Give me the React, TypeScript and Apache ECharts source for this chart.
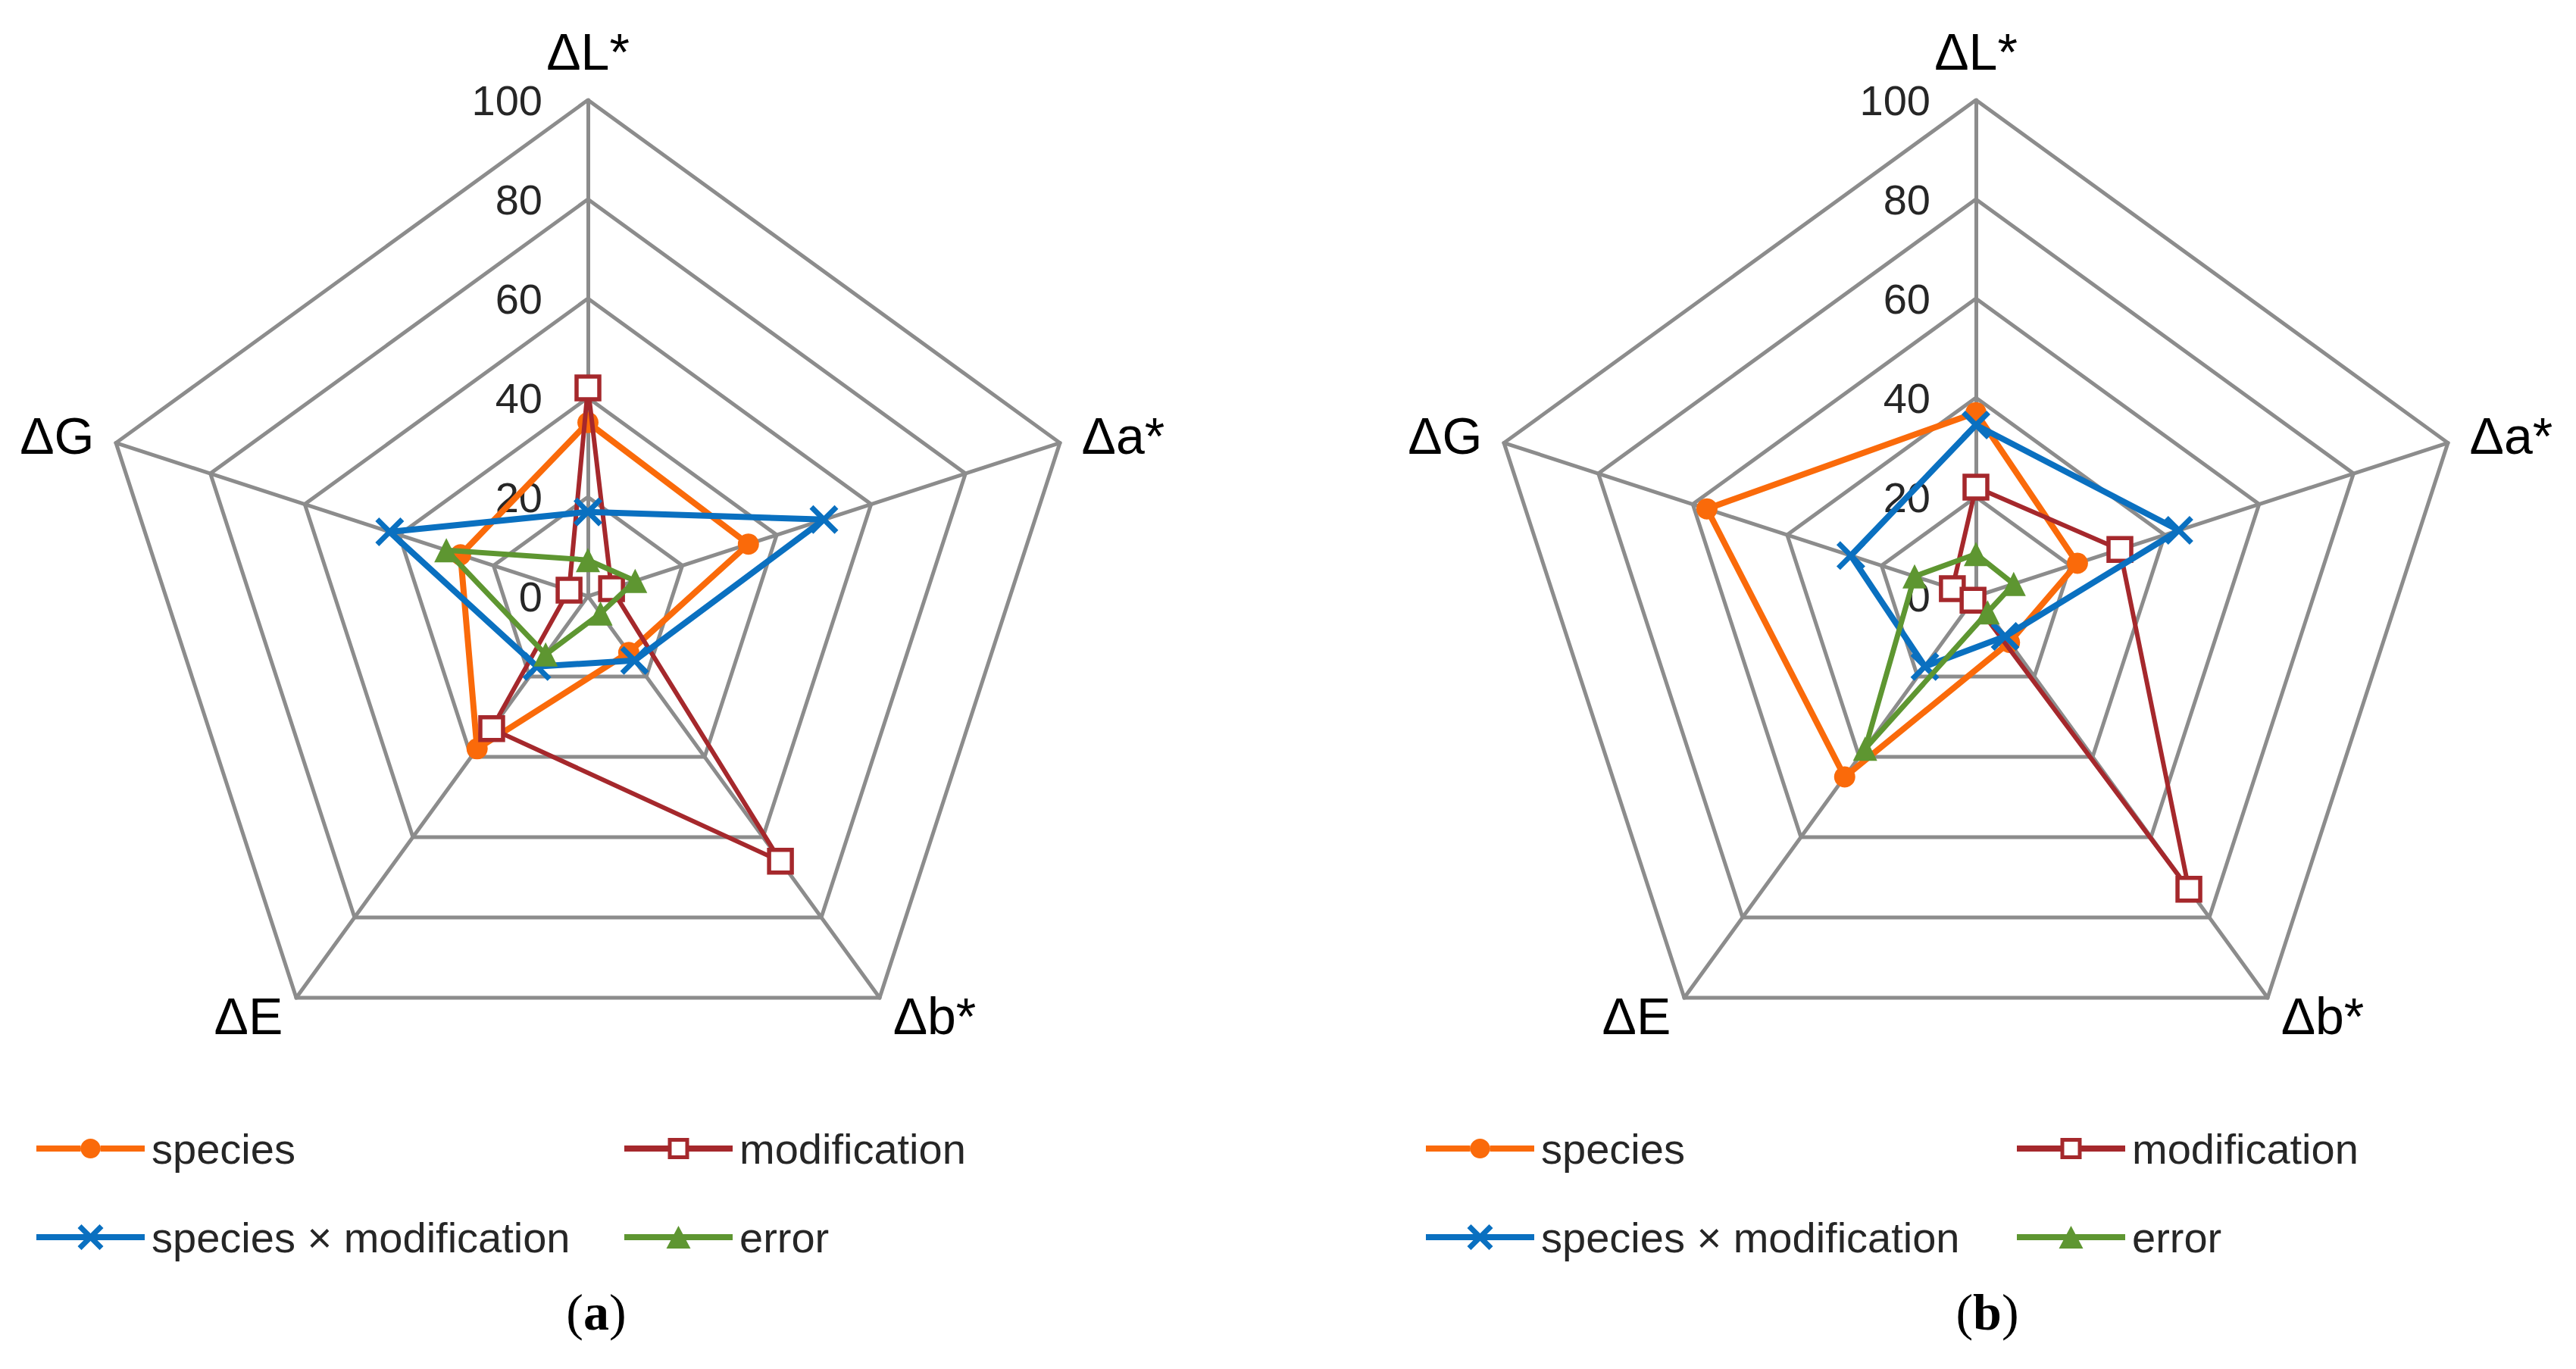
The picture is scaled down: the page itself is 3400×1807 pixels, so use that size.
import React, { useEffect, useRef } from 'react';
import * as echarts from 'echarts';

// ---------- data ----------
const categories = ['ΔL*', 'Δa*', 'Δb*', 'ΔE', 'ΔG'];
const seriesNames = ['species', 'modification', 'species × modification', 'error'];
const axisMin = 0;
const axisMax = 100;
const axisSplits = 5;
const panelLabels = ['a', 'b'];

// panel (a) values, in the order of `categories`
const aSpecies = [35, 34, 14, 38, 27];
const aModification = [42, 5, 66, 33, 4];
const aInteraction = [17, 50, 16, 17.5, 42];
const aError = [7.3, 10, 4.3, 14.5, 30];

// panel (b) values
const bSpecies = [37, 21.5, 11.5, 45, 57];
const bModification = [22, 30.5, 73, 1, 5];
const bInteraction = [34.5, 43, 10, 17.5, 26.5];
const bError = [8.5, 8, 4, 38, 13];

// ---------- styles ----------
const FONT = 'Liberation Sans, Arial, sans-serif';
const SERIF = 'Liberation Serif, Times New Roman, serif';
const GRID = '#8c8c8c';
const COLORS = ['#FA6A0A', '#A5282C', '#0A70C0', '#5E9631'];
const LINE_W = [8, 6, 8, 7];
const XPATH = 'path://M2.6,0L10,7.4L17.4,0L20,2.6L12.6,10L20,17.4L17.4,20L10,12.6L2.6,20L0,17.4L7.4,10L0,2.6Z';
const SYMBOLS = ['circle', 'rect', XPATH, 'triangle'];
const SIZES = [28, 30, 38, 32];

// legend icons (line + marker), bbox width 143
const LINE_FULL = 'M0,14L143,14L143,22L0,22Z';
const LEGEND_ICONS = [
  'path://M0,14L58.5,14L58.5,22L0,22Z M84.5,14L143,14L143,22L84.5,22Z M58.5,18A13,13 0 1 1 84.5,18A13,13 0 1 1 58.5,18Z',
  'path://M0,14L57.5,14L57.5,22L0,22Z M85.5,14L143,14L143,22L85.5,22Z M57.5,4L85.5,4L85.5,32L57.5,32Z M62.5,9L62.5,27L80.5,27L80.5,9Z',
  'path://' + LINE_FULL + ' M59.5,1L71.5,13L83.5,1L88.5,6L76.5,18L88.5,30L83.5,35L71.5,23L59.5,35L54.5,30L66.5,18L54.5,6Z',
  'path://' + LINE_FULL + ' M71.5,3L87.5,33L55.5,33Z',
];

// ECharts places indicators counter-clockwise from the top
const ORDER = [0, 4, 3, 2, 1];

const CENTERS = [776, 2608];
const CENTER_Y = 787;
const RADIUS = 655;

function makeRadar(cx: number) {
  return {
    center: [cx, CENTER_Y],
    radius: RADIUS,
    startAngle: 90,
    splitNumber: axisSplits,
    shape: 'polygon',
    nameGap: 30,
    axisName: { color: '#000', fontSize: 68, fontFamily: FONT },
    axisLine: { show: true, lineStyle: { color: GRID, width: 5 } },
    splitLine: { show: true, lineStyle: { color: GRID, width: 5 } },
    splitArea: { show: false },
    axisTick: { show: false },
    axisLabel: { show: false },
    indicator: ORDER.map((ci, k) => ({
      name: categories[ci],
      min: axisMin,
      max: axisMax,
      axisLabel:
        k === 0
          ? { show: true, fontSize: 56, color: '#262626', fontFamily: FONT, margin: 60 }
          : { show: false },
    })),
  };
}

function makeSeries(radarIndex: number, sets: number[][]) {
  return sets.map((vals, s) => ({
    type: 'radar',
    radarIndex,
    name: seriesNames[s],
    symbol: SYMBOLS[s],
    symbolSize: SIZES[s],
    z: 2 + s,
    lineStyle: { color: COLORS[s], width: LINE_W[s] },
    itemStyle:
      s === 1
        ? { color: '#fff', borderColor: COLORS[s], borderWidth: 5.5 }
        : { color: COLORS[s], borderWidth: 0 },
    emphasis: { disabled: true },
    data: [{ name: seriesNames[s], value: ORDER.map((i) => vals[i]) }],
  }));
}

function legendItem(s: number) {
  return {
    name: seriesNames[s],
    icon: LEGEND_ICONS[s],
    itemStyle: { color: COLORS[s], borderWidth: 0, borderColor: 'transparent' },
    textStyle: { padding: [0, 0, 0, 4] },
  };
}

function makeLegend(left: number, items: number[]) {
  return {
    orient: 'vertical',
    left,
    top: 1488,
    padding: 0,
    itemWidth: 143,
    itemHeight: 36,
    itemGap: 61,
    symbolKeepAspect: true,
    selectedMode: false,
    textStyle: { fontSize: 56, color: '#262626', fontFamily: FONT },
    data: items.map(legendItem),
  };
}

function makeTitle(cx: number, label: string) {
  return {
    text: '({b|' + label + '})',
    left: cx,
    top: 1698,
    padding: 0,
    textAlign: 'center',
    textStyle: {
      fontFamily: SERIF,
      fontSize: 68,
      fontWeight: 'normal',
      color: '#000',
      rich: { b: { fontFamily: SERIF, fontSize: 68, fontWeight: 'bold', color: '#000' } },
    },
  };
}

export default function App() {
  const ref = useRef<HTMLDivElement>(null);
  useEffect(() => {
    const chart = echarts.init(ref.current!, undefined, { renderer: 'svg' });
    chart.setOption({
      animation: false,
      backgroundColor: '#fff',
      title: [makeTitle(787, panelLabels[0]), makeTitle(2623, panelLabels[1])],
      radar: [makeRadar(CENTERS[0]), makeRadar(CENTERS[1])],
      legend: [
        makeLegend(48, [0, 2]),
        makeLegend(824, [1, 3]),
        makeLegend(1882, [0, 2]),
        makeLegend(2662, [1, 3]),
      ],
      series: [
        ...makeSeries(0, [aSpecies, aModification, aInteraction, aError]),
        ...makeSeries(1, [bSpecies, bModification, bInteraction, bError]),
      ],
    });
    return () => chart.dispose();
  }, []);
  return (
    <div
      ref={ref}
      style={{ position: 'absolute', left: 0, top: 0, width: 3400, height: 1807, background: '#fff' }}
    />
  );
}
